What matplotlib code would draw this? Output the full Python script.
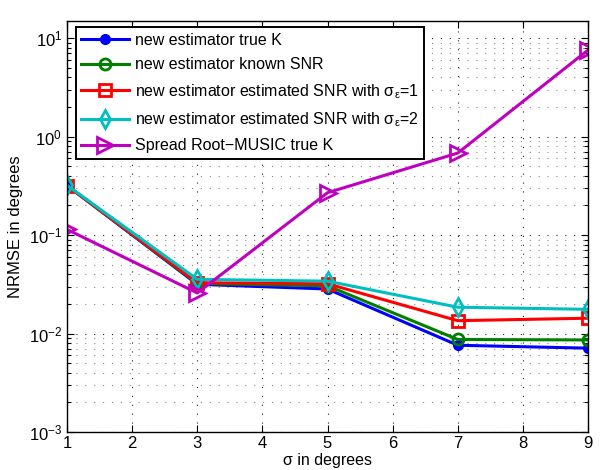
import matplotlib
matplotlib.use("Agg")
import matplotlib.pyplot as plt
from matplotlib.ticker import LogLocator, NullFormatter, LogFormatterMathtext

plt.rcParams['font.family'] = ['Liberation Sans', 'DejaVu Sans']
plt.rcParams['mathtext.fontset'] = 'custom'
plt.rcParams['mathtext.rm'] = 'Liberation Sans'
plt.rcParams['mathtext.it'] = 'Liberation Sans:italic'

sigma = [1, 3, 5, 7, 9]
true_k = [0.318, 0.0316, 0.0283, 0.0076, 0.0071]
known_snr = [0.318, 0.0322, 0.0305, 0.0087, 0.0086]
est_snr_1 = [0.318, 0.0328, 0.0320, 0.0135, 0.0143]
est_snr_2 = [0.320, 0.0355, 0.0340, 0.0185, 0.0176]
root_music = [0.114, 0.0258, 0.269, 0.68, 7.55]

labels = [
    "new estimator true K",
    "new estimator known SNR",
    r"new estimator estimated SNR with $\mathrm{\sigma}_{\mathrm{\varepsilon}}$=1",
    r"new estimator estimated SNR with $\mathrm{\sigma}_{\mathrm{\varepsilon}}$=2",
    "Spread Root\u2212MUSIC true K",
]

fig = plt.figure(figsize=(6.08, 4.70), dpi=100)
ax = fig.add_axes([67/608, 1 - 432/470, (588-67)/608, (432-21)/470])

ax.plot(sigma, true_k, color='#0000ff', lw=2.2, marker='o', ms=7, mfc='#0000ff', mec='#0000ff', label=labels[0])
ax.plot(sigma, known_snr, color='#007f00', lw=2.2, marker='o', ms=8, mfc='none', mec='#007f00', mew=2, label=labels[1])
ax.plot(sigma, est_snr_1, color='#ff0000', lw=2.2, marker='s', ms=8, mfc='none', mec='#ff0000', mew=2, label=labels[2])
ax.plot(sigma, est_snr_2, color='#00bfbf', lw=2.2, marker='d', ms=9, mfc='none', mec='#00bfbf', mew=2, label=labels[3])
ax.plot(sigma, root_music, color='#bf00bf', lw=2.2, marker='>', ms=11, mfc='none', mec='#bf00bf', mew=2, label=labels[4])

ax.set_yscale('log')
ax.set_xlim(1, 9)
ax.set_ylim(1e-3, 14.9)
ax.set_xticks(range(1, 10))
ax.yaxis.set_major_locator(LogLocator(base=10, numticks=10))
ax.yaxis.set_major_formatter(LogFormatterMathtext())
ax.yaxis.set_minor_locator(LogLocator(base=10, subs=range(2, 10), numticks=20))
ax.yaxis.set_minor_formatter(NullFormatter())

ax.grid(True, which='major', linestyle=(0, (1, 7)), color='#202020', lw=0.8)
ax.grid(True, which='minor', axis='y', linestyle=(0, (1, 7)), color='#8a8a8a', lw=0.8)
ax.set_axisbelow(True)

ax.tick_params(which='both', direction='in', top=True, right=True, labelsize=12, width=0.8)
ax.tick_params(which='major', length=5)
ax.tick_params(which='minor', length=3)
ax.tick_params(axis='x', pad=3)
for s in ax.spines.values():
    s.set_linewidth(1.0)

ax.set_xlabel("\u03c3 in degrees", fontsize=11.5, labelpad=1)
ax.set_ylabel("NRMSE in degrees", fontsize=12)

leg = ax.legend(loc='upper left', fontsize=11.5, frameon=True, fancybox=False,
                edgecolor='black', framealpha=1, handlelength=3.0,
                handletextpad=0.35, bbox_to_anchor=(0.017, 0.985),
                borderaxespad=0.0, labelspacing=0.6, borderpad=0.35)
leg.get_frame().set_linewidth(1.4)

fig.savefig("out.png", dpi=100)
